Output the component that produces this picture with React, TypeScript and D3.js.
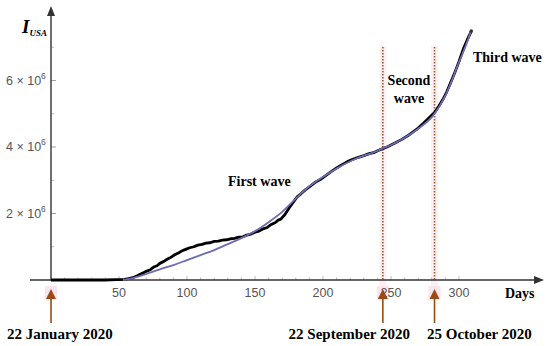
import React from "react";
import * as d3 from "d3";

const W = 550;
const H = 346;

// Observed cumulative infections (millions) vs days since 22 Jan 2020
const dataDays = [0, 10, 20, 30, 40, 48, 54, 57, 60, 63, 66, 68, 70, 73, 76, 78, 80, 83, 86, 88, 91, 94, 96, 99, 102, 105, 108, 111, 114, 117, 120, 123, 126, 129, 132, 135, 138, 141, 144, 147, 150, 153, 156, 159, 162, 165, 167, 169, 172, 175, 178, 181, 184, 187, 190, 194, 198, 202, 206, 210, 214, 218, 222, 226, 230, 234, 238, 241, 244, 247, 250, 254, 258, 262, 266, 270, 274, 278, 282, 285, 288, 291, 294, 297, 300, 303, 306, 309];
const dataValues = [0, 0, 0, 0, 0, 0.01, 0.02, 0.04, 0.07, 0.12, 0.18, 0.22, 0.26, 0.31, 0.4, 0.43, 0.5, 0.56, 0.64, 0.68, 0.76, 0.82, 0.87, 0.92, 0.97, 1.0, 1.05, 1.07, 1.11, 1.12, 1.16, 1.17, 1.2, 1.21, 1.24, 1.25, 1.29, 1.3, 1.35, 1.38, 1.44, 1.47, 1.54, 1.58, 1.67, 1.73, 1.8, 1.83, 1.97, 2.16, 2.33, 2.5, 2.6, 2.71, 2.8, 2.93, 3.02, 3.14, 3.26, 3.37, 3.47, 3.56, 3.63, 3.69, 3.74, 3.8, 3.84, 3.9, 3.95, 4.0, 4.06, 4.14, 4.23, 4.33, 4.45, 4.57, 4.72, 4.88, 5.04, 5.22, 5.42, 5.66, 5.95, 6.25, 6.57, 6.93, 7.22, 7.48];

// Fitted model (millions)
const fitDays = [53, 60, 70, 80, 90, 100, 110, 120, 130, 140, 150, 160, 170, 180, 190, 200, 210, 220, 230, 240, 244, 250, 260, 270, 280, 282, 290, 300, 305, 309];
const fitValues = [0, 0.06, 0.18, 0.32, 0.45, 0.6, 0.75, 0.9, 1.08, 1.26, 1.47, 1.74, 2.05, 2.45, 2.82, 3.1, 3.35, 3.57, 3.74, 3.88, 3.96, 4.06, 4.28, 4.55, 4.9, 5.0, 5.55, 6.55, 7.05, 7.5];

const xTicks = [50, 100, 150, 200, 250, 300];
const yTicks = [2, 4, 6];
const waveBoundaries = [0, 244, 282];
const dateLabels = ["22 January 2020", "22 September 2020", "25 October 2020"];

export default function App() {
  const x = d3.scaleLinear().domain([0, 300]).range([51, 459]);
  const y = d3.scaleLinear().domain([0, 6]).range([280, 80.5]);
  const line = d3
    .line<[number, number]>()
    .x((d) => x(d[0]))
    .y((d) => y(d[1]))
    .curve(d3.curveLinear);
  const smooth = d3
    .line<[number, number]>()
    .x((d) => x(d[0]))
    .y((d) => y(d[1]))
    .curve(d3.curveMonotoneX);
  const dataPts = dataDays.map((d, i) => [d, dataValues[i]] as [number, number]);
  const fitPts = fitDays.map((d, i) => [d, fitValues[i]] as [number, number]);
  const minorX = d3.range(10, 310, 10);
  const minorY = [1, 3, 5, 7];
  const axisColor = "#333";
  const serif = "'Liberation Serif', 'Times New Roman', serif";
  const sans = "'Liberation Sans', Arial, sans-serif";
  const brown = "#9a4a14";
  const y0 = y(0);

  return (
    <div style={{ position: "absolute", left: 0, top: 0 }}>
      <svg width={W} height={H} style={{ display: "block", background: "#fff" }}>
        {/* pink highlight bands */}
        {waveBoundaries.slice(1).map((d) => (
          <rect key={"band" + d} x={x(d) - 3.5} y={46} width={7} height={y0 - 46 + 6} fill="#fdf0f5" />
        ))}
        {waveBoundaries.map((d) => (
          <rect key={"pb" + d} x={x(d) - 6} y={286} width={12} height={14} fill="#fce4ee" />
        ))}

        {/* x minor ticks */}
        {minorX.map((d) => (
          <line key={"mx" + d} x1={x(d)} x2={x(d)} y1={y0} y2={y0 - (d % 50 === 0 ? 4 : 2.5)} stroke="#aaa" strokeWidth={0.8} />
        ))}
        {minorY.map((v) => (
          <line key={"my" + v} x1={51} x2={54} y1={y(v)} y2={y(v)} stroke="#aaa" strokeWidth={0.8} />
        ))}
        {yTicks.map((v) => (
          <line key={"ty" + v} x1={51} x2={56} y1={y(v)} y2={y(v)} stroke="#888" strokeWidth={0.8} />
        ))}

        {/* dotted boundaries */}
        {waveBoundaries.slice(1).map((d) => (
          <line key={"dl" + d} x1={x(d)} x2={x(d)} y1={47} y2={y0} stroke="#9a5a22" strokeWidth={1.6} strokeDasharray="1.5,1.5" />
        ))}

        {/* axes */}
        <line x1={30} x2={536} y1={y0} y2={y0} stroke={axisColor} strokeWidth={1.4} />
        <path d={`M544,${y0} L534,${y0 - 4} L534,${y0 + 4} Z`} fill={axisColor} />
        <line x1={51} x2={51} y1={14} y2={y0 + 1} stroke={axisColor} strokeWidth={1.4} />
        <path d={`M51,6 L47,16 L55,16 Z`} fill={axisColor} />

        {/* data and fit */}
        <path d={line(dataPts) || ""} fill="none" stroke="#000" strokeWidth={2.8} strokeLinejoin="round" />
        <path d={smooth(fitPts) || ""} fill="none" stroke="#6c6cb4" strokeWidth={1.8} />
        <circle cx={x(309)} cy={y(7.49)} r={1.8} fill="#333" />

        {/* tick labels */}
        {xTicks.map((d) => (
          <text key={"xl" + d} x={x(d)} y={297} textAnchor="middle" fontFamily={sans} fontSize={12.5} fill="#555">
            {d}
          </text>
        ))}
        {yTicks.map((v) => (
          <text key={"yl" + v} x={6} y={y(v) + 4} fontFamily={sans} fontSize={12.5} fill="#555">
            {v} × 10
            <tspan dy={-6} fontSize={8.5}>6</tspan>
          </text>
        ))}

        {/* axis titles */}
        <text x={22} y={33} fontFamily={serif} fontSize={19} fontWeight="bold" fontStyle="italic" fill="#000">
          I
          <tspan dy={3} fontSize={9}>USA</tspan>
        </text>
        <text x={505} y={298} fontFamily={serif} fontSize={14} fontWeight="bold" fill="#000">
          Days
        </text>

        {/* wave labels */}
        <text x={228} y={186} fontFamily={serif} fontSize={14} fontWeight="bold">First wave</text>
        <text x={409} y={85} textAnchor="middle" fontFamily={serif} fontSize={14} fontWeight="bold">Second</text>
        <text x={409} y={103} textAnchor="middle" fontFamily={serif} fontSize={14} fontWeight="bold">wave</text>
        <text x={473} y={62} fontFamily={serif} fontSize={14} fontWeight="bold">Third wave</text>

        {/* arrows and dates */}
        {waveBoundaries.map((d) => (
          <g key={"ar" + d}>
            <line x1={x(d)} x2={x(d)} y1={297} y2={323} stroke={brown} strokeWidth={1.6} />
            <path d={`M${x(d)},289 L${x(d) - 5},299 L${x(d) + 5},299 Z`} fill={brown} />
          </g>
        ))}
        <text x={7} y={339} fontFamily={serif} fontSize={15} fontWeight="bold">{dateLabels[0]}</text>
        <text x={410} y={339} textAnchor="end" fontFamily={serif} fontSize={15} fontWeight="bold">{dateLabels[1]}</text>
        <text x={427} y={339} fontFamily={serif} fontSize={15} fontWeight="bold">{dateLabels[2]}</text>
      </svg>
    </div>
  );
}
